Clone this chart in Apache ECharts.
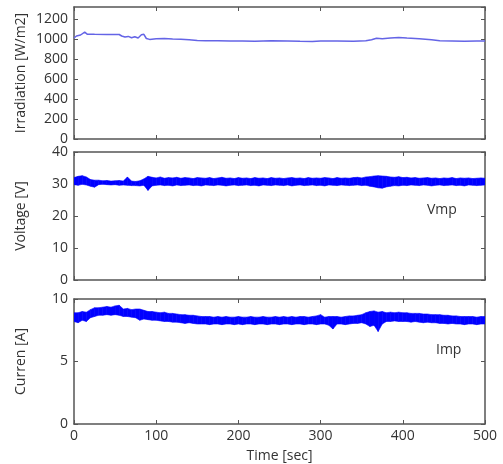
<!DOCTYPE html>
<html><head><meta charset="utf-8">
<script src="https://cdn.jsdelivr.net/npm/echarts@6/dist/echarts.min.js"></script>
<style>html,body{margin:0;padding:0;background:#fff}#c{width:503px;height:464px}</style>
</head><body><div id="c"></div>
<script>
// ---- data ----
const xTicks = [0, 100, 200, 300, 400, 500];
const irrTicks = [0, 200, 400, 600, 800, 1000, 1200];
const vTicks = [0, 10, 20, 30, 40];
const iTicks = [0, 5, 10];

const tIrr = [0,3,8,13,16,25,40,55,58,62,66,70,74,78,82,85,88,92,100,110,120,130,140,150,160,175,190,205,220,240,260,275,290,300,320,340,355,362,368,375,385,395,405,420,435,445,460,475,490,500];
const irr  = [1010,1030,1040,1068,1048,1047,1046,1045,1030,1020,1026,1012,1022,1010,1042,1047,1005,996,1002,1006,1001,998,992,986,982,983,979,981,978,982,980,977,976,980,980,978,982,992,1008,1002,1010,1016,1010,1002,992,983,981,977,980,980];

const tVI = [0,5,10,15,20,25,30,35,40,45,50,55,60,65,70,75,80,85,90,95,100,105,110,115,120,125,130,135,140,145,150,155,160,165,170,175,180,185,190,195,200,205,210,215,220,225,230,235,240,245,250,255,260,265,270,275,280,285,290,295,300,305,310,315,320,325,330,335,340,345,350,355,360,365,370,375,380,385,390,395,400,405,410,415,420,425,430,435,440,445,450,455,460,465,470,475,480,485,490,495,500];

const vLow = [29.8,29.6,29.9,29.7,29.3,29.0,29.8,29.9,29.8,29.7,
29.8,29.6,29.7,29.6,29.5,29.5,29.4,29.6,28.0,29.4,
29.6,29.7,29.5,29.6,29.4,29.7,29.5,29.6,29.7,29.5,
29.6,29.4,29.7,29.6,29.5,29.7,29.6,29.4,29.6,29.7,
29.5,29.6,29.7,29.5,29.6,29.4,29.7,29.6,29.5,29.7,
29.6,29.5,29.7,29.4,29.6,29.7,29.5,29.6,29.7,29.5,
29.6,29.4,29.7,29.6,29.5,29.7,29.6,29.5,29.6,29.7,
29.5,29.6,29.3,29.1,28.8,28.7,29.1,29.3,29.5,29.4,
29.6,29.5,29.7,29.6,29.5,29.7,29.6,29.4,29.6,29.7,
29.5,29.6,29.7,29.5,29.6,29.4,29.7,29.6,29.5,29.6,29.7];
const vHigh = [32.0,32.4,32.6,32.2,31.4,31.2,31.2,31.0,31.1,30.9,
31.0,31.1,30.9,32.2,30.9,30.8,31.0,31.6,32.4,32.1,
31.9,32.2,31.8,32.0,31.9,32.1,31.8,32.0,31.9,31.7,
32.0,31.9,31.8,32.0,31.7,31.9,32.1,31.8,31.9,31.7,
32.0,31.8,31.9,31.7,32.0,31.8,31.9,31.7,32.0,31.8,
31.9,31.7,31.9,32.0,31.8,31.9,31.7,32.0,31.8,31.9,
31.8,32.0,31.9,31.7,32.0,31.8,31.9,31.8,32.0,32.1,
31.9,32.2,32.3,32.5,32.6,32.5,32.4,32.2,32.1,32.3,
32.0,32.1,31.9,32.0,31.8,31.9,32.0,31.8,31.9,31.7,
31.9,31.8,32.0,31.7,31.9,31.8,31.9,31.7,31.8,31.9,31.8];

const iLow = [8.2,8.1,8.3,8.2,8.5,8.6,8.7,8.7,8.75,8.7,
8.75,8.7,8.6,8.6,8.55,8.5,8.3,8.4,8.35,8.3,
8.3,8.25,8.2,8.2,8.15,8.15,8.1,8.05,8.1,8.05,
8.0,8.0,8.0,7.95,8.0,8.0,7.95,8.0,8.0,7.95,
8.0,7.95,8.0,8.0,7.95,8.0,8.0,7.95,8.0,8.0,
7.95,8.0,8.0,7.95,8.0,8.0,7.95,8.0,8.0,7.95,
8.0,8.0,7.9,7.6,8.0,8.0,7.95,8.0,8.05,8.05,
8.1,8.0,7.8,7.9,7.4,8.0,8.2,8.2,8.25,8.2,
8.2,8.2,8.15,8.2,8.15,8.1,8.15,8.1,8.1,8.05,
8.05,8.0,8.05,8.0,8.0,7.95,8.0,8.0,7.95,8.0,8.0];
const iHigh = [8.9,8.9,9.0,8.95,9.15,9.3,9.3,9.35,9.4,9.35,
9.45,9.5,9.2,9.25,9.15,9.2,9.2,9.1,9.0,9.0,
8.95,8.9,8.95,8.85,8.85,8.8,8.75,8.75,8.7,8.7,
8.65,8.6,8.6,8.6,8.55,8.6,8.55,8.6,8.55,8.55,
8.6,8.55,8.55,8.6,8.55,8.55,8.6,8.55,8.55,8.6,
8.55,8.6,8.55,8.6,8.55,8.6,8.6,8.55,8.6,8.65,
8.75,8.55,8.6,8.6,8.6,8.55,8.6,8.65,8.65,8.7,
8.75,8.9,9.0,9.05,8.95,9.0,8.9,8.95,8.9,8.95,
8.9,8.9,8.85,8.85,8.85,8.8,8.8,8.75,8.75,8.75,
8.7,8.7,8.65,8.65,8.6,8.6,8.6,8.6,8.55,8.6,8.6];

// ---- chart ----
const FONT = '"Open Sans", "Noto Sans", sans-serif';
const AX = '#555';
const TXT = '#333';
const grids = [
  {left: 74, top: 7, width: 411, height: 132},
  {left: 74, top: 152, width: 411, height: 128},
  {left: 74, top: 299, width: 411, height: 128}
];
const yCfg = [
  {min: 0, max: 1320, interval: 200, name: 'Irradiation [W/m2]', ticks: irrTicks},
  {min: 0, max: 40, interval: 10, name: 'Voltage [V]', ticks: vTicks},
  {min: 0, max: 10, interval: 5, name: 'Curren [A]', ticks: iTicks}
];
const xAxis = [], yAxis = [];
grids.forEach((g, i) => {
  const base = {
    gridIndex: i, type: 'value', min: 0, max: 500, interval: 100,
    axisLine: {show: true, onZero: false, lineStyle: {color: AX, width: 1.5}},
    axisTick: {show: true, inside: true, length: 4, lineStyle: {color: AX, width: 1}},
    splitLine: {show: false}
  };
  xAxis.push(Object.assign({}, base, {
    position: 'bottom',
    axisLabel: {show: i === 2, color: TXT, fontSize: 14, fontFamily: FONT, margin: 5,
      formatter: v => xTicks.includes(v) ? String(v) : ''},
    name: i === 2 ? 'Time [sec]' : '', nameLocation: 'middle', nameGap: 25,
    nameMoveOverlap: false,
    nameTextStyle: {color: TXT, fontSize: 14, fontFamily: FONT}
  }));
  xAxis.push(Object.assign({}, base, {position: 'top', axisLabel: {show: false}}));
  const yc = yCfg[i];
  const ybase = {
    gridIndex: i, type: 'value', min: yc.min, max: yc.max, interval: yc.interval,
    axisLine: {show: true, onZero: false, lineStyle: {color: AX, width: 1.5}},
    axisTick: {show: true, inside: true, length: 4, lineStyle: {color: AX, width: 1}},
    splitLine: {show: false}
  };
  yAxis.push(Object.assign({}, ybase, {
    position: 'left',
    axisLabel: {show: true, color: TXT, fontSize: 14, fontFamily: FONT, margin: 6, showMaxLabel: i !== 0,
      formatter: v => yc.ticks.includes(v) ? String(v) : ''},
    name: yc.name, nameLocation: 'middle', nameGap: 46, nameRotate: 90,
    nameMoveOverlap: false,
    nameTextStyle: {color: TXT, fontSize: 14, fontFamily: FONT}
  }));
  yAxis.push(Object.assign({}, ybase, {position: 'right', axisLabel: {show: false}}));
});

const BLUE = '#0000ff';
// band between low and high envelopes, drawn segment by segment through the axis scales
function band(idx, low, high) {
  const data = tVI.map((t, k) => [t, low[k], high[k]]);
  return {
    type: 'custom', xAxisIndex: idx * 2, yAxisIndex: idx * 2, silent: true, animation: false,
    clip: true,
    data: data,
    renderItem: function (params, api) {
      const k = params.dataIndex;
      if (k >= data.length - 1) return null;
      const a = data[k], b = data[k + 1];
      const p1 = api.coord([a[0], a[1]]);
      const p2 = api.coord([a[0], a[2]]);
      const p3 = api.coord([b[0], b[2]]);
      const p4 = api.coord([b[0], b[1]]);
      return {
        type: 'polygon',
        shape: {points: [p1, p2, p3, p4]},
        style: {fill: BLUE, stroke: BLUE, lineWidth: 0.6}
      };
    }
  };
}

const series = [
  {type: 'line', xAxisIndex: 0, yAxisIndex: 0, symbol: 'none',
    data: tIrr.map((t, k) => [t, irr[k]]),
    lineStyle: {color: '#6464e6', width: 1.5}, animation: false},
  band(1, vLow, vHigh),
  band(2, iLow, iHigh)
];

const chart = echarts.init(document.getElementById('c'), null, {renderer: 'canvas'});
chart.setOption({
  animation: false,
  backgroundColor: '#fff',
  grid: grids,
  xAxis: xAxis,
  yAxis: yAxis,
  series: series,
  graphic: [
    {type: 'text', left: 427, top: 203, style: {text: 'Vmp', fill: TXT, font: '14px ' + FONT}},
    {type: 'text', left: 436, top: 343, style: {text: 'Imp', fill: TXT, font: '14px ' + FONT}}
  ]
});
</script></body></html>
